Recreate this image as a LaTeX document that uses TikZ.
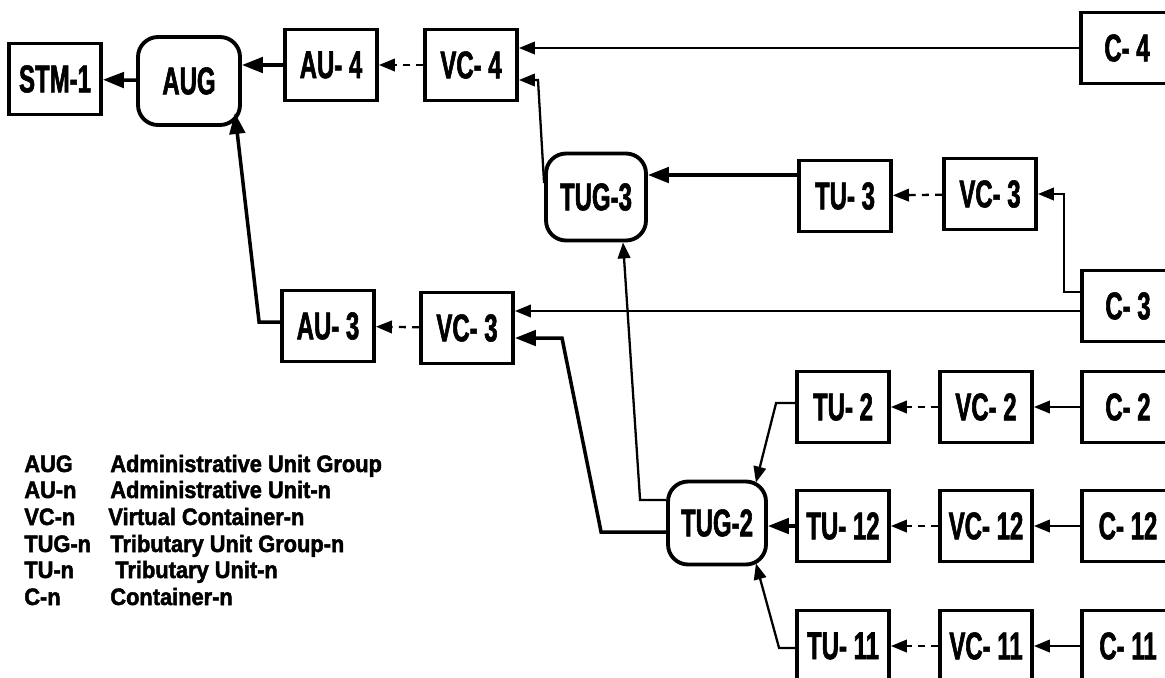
\documentclass[tikz,border=0pt]{standalone}
\usepackage{fontspec}
\usepackage{tikz}
\usetikzlibrary{arrows.meta,calc,positioning}
\setmainfont{Liberation Sans}
\newfontfamily\narrowfont{Liberation Sans}[FakeStretch=0.62, BoldFeatures={FakeBold=1.5}]
\newfontfamily\legendfont{Liberation Sans}[FakeStretch=0.92, BoldFeatures={FakeBold=2}]
\definecolor{inkblack}{HTML}{000000}

\tikzset{
    sdhbox/.style={draw=inkblack, line width=2.2pt, minimum width=1.84cm, minimum height=1.42cm,
        inner sep=0pt, font=\narrowfont\bfseries\fontsize{22}{24}\selectfont},
    grpbox/.style={sdhbox, rounded corners=0.4cm, minimum width=2cm, minimum height=1.74cm},
    link/.style={inkblack, line width=2pt, -{Triangle[length=4.2mm,width=3.1mm]}},
    thinlink/.style={inkblack, line width=1.3pt, -{Triangle[length=3.2mm,width=2.5mm]}},
    dlink/.style={thinlink, dash pattern=on 4pt off 3.5pt},
    legtext/.style={anchor=base west, inner sep=0pt, font=\legendfont\bfseries\fontsize{13.5}{15}\selectfont}
}

\begin{document}
\begin{tikzpicture}[x=0.02cm,y=-0.02cm]
    \useasboundingbox[fill=white] (0,0) rectangle (1165,677);
    \clip (0,0) rectangle (1165,677);

    \node[sdhbox] (STM) at (55,79) {STM-1};
    \node[grpbox, minimum width=2.04cm, minimum height=1.76cm] (AUG) at (189,81) {AUG};
    \node[sdhbox] (AU4) at (331,65) {AU- 4};
    \node[sdhbox] (VC4) at (471,65) {VC- 4};
    \node[sdhbox] (C4) at (1127,48) {C- 4};

    \node[grpbox] (TUG3) at (596,197) {TUG-3};
    \node[sdhbox] (TU3) at (845,196) {TU- 3};
    \node[sdhbox] (VC3a) at (990,194) {VC- 3};
    \node[sdhbox] (C3) at (1128,306) {C- 3};

    \node[sdhbox] (AU3) at (328,326) {AU- 3};
    \node[sdhbox] (VC3b) at (467,328) {VC- 3};

    \node[grpbox, minimum width=1.96cm, minimum height=1.66cm] (TUG2) at (717,523) {TUG-2};

    \foreach \n/\y in {2/407,12/526,11/646} {
        \node[sdhbox] (TU\n) at (843,\y) {TU- \n};
        \node[sdhbox] (VC\n) at (986,\y) {VC- \n};
        \node[sdhbox] (C\n) at (1128,\y) {C- \n};
        \draw[dlink] (VC\n) -- (TU\n);
        \draw[thinlink] (C\n) -- (VC\n);
    }

    \coordinate (TUGBEND) at (538,80);
    \coordinate (TU3OUT) at ($(TU3.west)+(0,-21)$);
    \coordinate (C3OUT) at ($(C3.west)+(0,5)$);
    \coordinate (VC3BEND) at (562,338);

    \draw[link] (AUG) -- (STM);
    \draw[link] (AU4.west) -- (AU4.west -| AUG.east);
    \draw[dlink] (VC4) -- (AU4);
    \draw[thinlink] (C4.west) -- (C4.west -| VC4.east);
    \draw[thinlink] (TUG3.165) -- (TUGBEND) -- (TUGBEND -| VC4.east);

    \draw[link] (TU3OUT) -- (TU3OUT -| TUG3.east);
    \draw[dlink] (VC3a) -- (TU3);
    \draw[thinlink] ($(C3.west)+(0,-14)$) -- ++(-16,0) |- (VC3a.east);
    \draw[thinlink] (C3OUT) -- (C3OUT -| VC3b.east);

    \draw[dlink] (VC3b) -- (AU3);
    \draw[link] ($(AU3.west)+(0,-4)$) -- ++(-21,0) -- ($(AUG.south east)+(-7,-14)$);

    \draw[link] ($(TUG2.west)+(0,9)$) -- ++(-65,0) -- (VC3BEND) -- (VC3BEND -| VC3b.east);
    \draw[thinlink] ($(TUG2.west)+(0,-23)$) -- ++(-26,0) -- ($(TUG3.south)+(27,0)$);
    \draw[thinlink] ($(TU2.west)+(0,-4)$) -- ++(-19,0) -- ($(TUG2.north east)+(-12,3)$);
    \draw[link] (TU12.west) -- (TU12.west -| TUG2.east);
    \draw[thinlink] ($(TU11.west)+(0,2)$) -- ++(-16,0) -- ($(TUG2.south east)+(-12,-3)$);

    \foreach \abbr/\desc/\y/\dx [count=\i] in {AUG/Administrative Unit Group/472/110,
        AU-n/Administrative Unit-n/498/110, VC-n/Virtual Container-n/525/108,
        TUG-n/Tributary Unit Group-n/552/110, TU-n/Tributary Unit-n/578/115,
        C-n/Container-n/605/110} {
        \node[legtext] (key\i) at (24,\y) {\abbr};
        \node[legtext] (desc\i) at (\dx,\y) {\desc};
    }
\end{tikzpicture}
\end{document}
